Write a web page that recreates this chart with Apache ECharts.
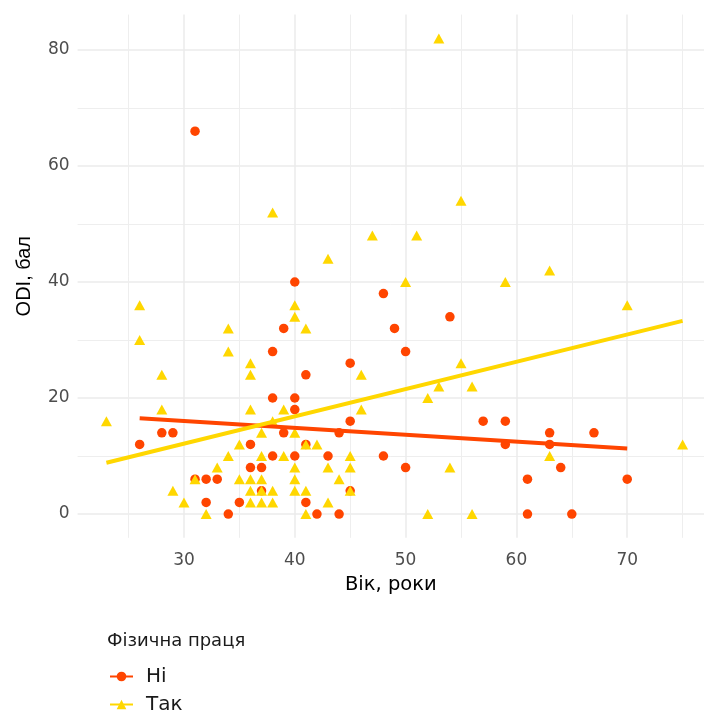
<!DOCTYPE html>
<html><head><meta charset="utf-8">
<script src="https://cdn.jsdelivr.net/npm/echarts@6/dist/echarts.min.js"></script>
<style>html,body{margin:0;padding:0;background:#fff}#c{width:704px;height:712px}</style>
</head><body><div id="c"></div>
<script>
// Група "Ні" (немає фізичної праці)
const niAge = [31,26,28,29,31,32,33,32,34,35,40,39,38,41,38,40,40,39,44,36,41,38,40,43,36,37,37,41,42,44,48,54,49,50,45,45,48,50,45,57,59,63,67,59,63,64,61,70,61,65];
const niOdi = [66,12,14,14,6,6,6,2,0,2,40,32,28,24,20,20,18,14,14,12,12,10,10,10,8,8,4,2,0,0,38,34,32,28,26,16,10,8,4,16,16,14,14,12,12,8,6,6,0,0];
// Група "Так"
const takAge = [38,53,55,47,51,43,63,50,59,70,75,26,26,28,28,23,34,34,35,34,33,29,30,32,31,36,36,40,40,41,36,39,37,40,42,41,37,39,40,43,35,36,37,40,44,36,38,40,41,36,37,38,43,41,37,46,46,52,53,55,45,45,52,54,56,63,56,45,38];
const takOdi = [52,82,54,48,48,44,42,40,40,36,12,36,30,24,18,16,32,28,12,10,8,4,2,0,6,26,24,36,34,32,18,18,14,14,12,12,10,10,8,8,6,6,6,6,6,4,4,4,4,2,2,2,2,0,4,24,18,20,22,26,10,8,0,8,22,10,0,4,16];
// Лінії тренду (кінцеві точки)
const niFitAge = [26, 70];
const niFitOdi = [16.5, 11.3];
const takFitAge = [23, 75];
const takFitOdi = [8.85, 33.3];
const xTicks = [30,40,50,60,70];
const xMinor = [25,35,45,55,65,75];
const yTicks = [0,20,40,60,80];
const yMinor = [10,30,50,70];

const RED = '#FF4500', GOLD = '#FFD700';
const FONT = 'DejaVu Sans, Liberation Sans, sans-serif';
const FONT_Y = 'Liberation Sans, Arial, sans-serif';

function zip(a, b) { return a.map((v, i) => [v, b[i]]); }

const XMIN = 20.4, XMAX = 76.93, YMIN = -4.1, YMAX = 86.1;
const chart = echarts.init(document.getElementById('c'));
chart.setOption({
  animation: false,
  textStyle: { fontFamily: FONT },
  title: { text: 'Фізична праця', left: 107, top: 632, padding: 0,
    textStyle: { fontSize: 18, fontWeight: 'normal', color: '#1a1a1a', fontFamily: FONT } },
  legend: {
    orient: 'vertical', left: 109, top: 666.5, height: 80, padding: 0, itemGap: 8, itemWidth: 23, itemHeight: 12,
    textStyle: { fontSize: 20, lineHeight: 20, color: '#1a1a1a', fontFamily: FONT, padding: [0, 0, 0, 8] },
    data: ['Ні', 'Так']
  },
  grid: { left: 77.6, right: 0, top: 14.6, bottom: 174.2, containLabel: false },
  xAxis: [
    { type: 'value', min: XMIN, max: XMAX,
      axisLine: { show: false }, axisTick: { show: false, customValues: xTicks },
      axisLabel: { customValues: xTicks, color: '#4d4d4d', fontSize: 17, margin: 14, fontFamily: FONT },
      splitLine: { show: true, lineStyle: { color: '#ebebeb', width: 1.5 } },
      name: 'Вік, роки', nameLocation: 'middle', nameGap: 37,
      nameTextStyle: { fontSize: 19.5, color: '#000', fontFamily: FONT } },
    { type: 'value', min: XMIN, max: XMAX, position: 'bottom',
      axisLine: { show: false }, axisTick: { show: false, customValues: xMinor },
      axisLabel: { show: false, customValues: xMinor },
      splitLine: { show: true, lineStyle: { color: '#eeeeee', width: 1 } } }
  ],
  yAxis: [
    { type: 'value', min: YMIN, max: YMAX,
      axisLine: { show: false }, axisTick: { show: false, customValues: yTicks },
      axisLabel: { customValues: yTicks, color: '#4d4d4d', fontSize: 17, margin: 8, fontFamily: FONT },
      splitLine: { show: true, lineStyle: { color: '#ebebeb', width: 1.5 } },
      name: 'ODI, бал', nameLocation: 'middle', nameGap: 43,
      nameTextStyle: { fontSize: 20, color: '#000', fontFamily: FONT_Y } },
    { type: 'value', min: YMIN, max: YMAX, position: 'left',
      axisLine: { show: false }, axisTick: { show: false, customValues: yMinor },
      axisLabel: { show: false, customValues: yMinor },
      splitLine: { show: true, lineStyle: { color: '#eeeeee', width: 1 } } }
  ],
  series: [
    { name: 'Ні', type: 'line', data: zip(niFitAge, niFitOdi), symbol: 'circle', symbolSize: 10, showSymbol: false,
      lineStyle: { color: RED, width: 4 }, itemStyle: { color: RED }, z: 5, silent: true },
    { name: 'Так', type: 'line', data: zip(takFitAge, takFitOdi), symbol: 'triangle', symbolSize: 10, showSymbol: false,
      lineStyle: { color: GOLD, width: 4 }, itemStyle: { color: GOLD }, z: 5, silent: true },
    { name: 'Ні', type: 'scatter', data: zip(niAge, niOdi), symbol: 'circle', symbolSize: 9.5,
      itemStyle: { color: RED, opacity: 1 }, z: 2 },
    { name: 'Так', type: 'scatter', data: zip(takAge, takOdi), symbol: 'triangle', symbolSize: [11, 10],
      itemStyle: { color: GOLD, opacity: 1 }, z: 3 }
  ]
});
</script></body></html>
